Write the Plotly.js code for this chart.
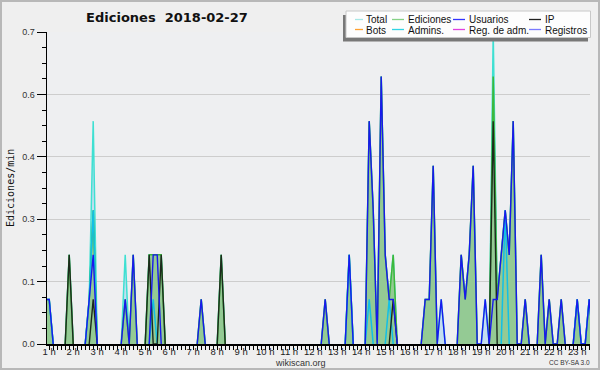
<!DOCTYPE html>
<html><head><meta charset="utf-8">
<script src="https://cdn.plot.ly/plotly-3.0.1.min.js"></script>
<style>
html,body{margin:0;padding:0;background:#efefef}
#chart{width:600px;height:370px;position:relative}
#chart:after{content:'';position:absolute;left:0;top:0;right:0;bottom:0;border:2px solid #b8b8b8;pointer-events:none;box-sizing:border-box}
</style>
</head><body><div id="chart"></div><script>
// 10-minute bins, 00:00 .. 23:50 (12 bins = 2 hours per row)
const total = [
 0,0,0,0,0,.1,.1,0,0,0,0,.2,
 0,0,0,0,.1,.5,0,0,0,0,0,0,
 0,.2,0,.2,0,0,0,.2,.2,.2,.2,0,
 0,0,0,0,0,0,0,0,.1,0,0,0,
 0,.2,0,0,0,0,0,0,0,0,0,0,
 0,0,0,0,0,0,0,0,0,0,0,0,
 0,0,0,.1,0,0,0,0,0,.2,0,0,
 0,0,.5,.3,0,.6,.2,.1,.2,0,0,0,
 0,0,0,0,.1,.1,.4,0,.1,0,0,0,
 0,.2,.1,.2,.4,0,0,.1,0,.7,.1,.2,
 .3,.2,.5,0,0,.1,0,0,0,.2,0,.1,
 0,0,.1,0,0,0,.1,0,0,.1,0,0];
const ediciones = [
 0,0,0,0,0,.1,.1,0,0,0,0,.2,
 0,0,0,0,.1,.3,0,0,0,0,0,0,
 0,.1,0,.2,0,0,0,.2,.2,.2,.2,0,
 0,0,0,0,0,0,0,0,.1,0,0,0,
 0,.2,0,0,0,0,0,0,0,0,0,0,
 0,0,0,0,0,0,0,0,0,0,0,0,
 0,0,0,.1,0,0,0,0,0,.2,0,0,
 0,0,.5,.3,0,.6,.2,.1,.2,0,0,0,
 0,0,0,0,.1,.1,.4,0,0,0,0,0,
 0,.2,.1,.2,.4,0,0,0,0,.6,.1,.2,
 .3,.2,.5,0,0,.1,0,0,0,.2,0,.1,
 0,0,.1,0,0,0,.1,0,0,.1,0,0];
const usuarios = [
 0,0,0,0,0,.1,.1,0,0,0,0,0,
 0,0,0,0,.1,.2,0,0,0,0,0,0,
 0,.1,0,.2,0,0,0,0,.2,.2,0,0,
 0,0,0,0,0,0,0,0,.1,0,0,0,
 0,0,0,0,0,0,0,0,0,0,0,0,
 0,0,0,0,0,0,0,0,0,0,0,0,
 0,0,0,.1,0,0,0,0,0,.2,0,0,
 0,0,.5,.3,0,.6,.2,.1,.1,0,0,0,
 0,0,0,0,.1,.1,.4,0,.1,0,0,0,
 0,.2,.1,.2,.4,0,0,.1,0,.1,.1,.2,
 .3,.2,.5,0,0,.1,0,0,0,.2,0,.1,
 0,0,.1,0,0,0,.1,0,0,.1,0,0];
const ip = [
 0,0,0,0,0,0,0,0,0,0,0,.2,
 0,0,0,0,0,.1,0,0,0,0,0,0,
 0,0,0,0,0,0,0,.2,0,0,.2,0,
 0,0,0,0,0,0,0,0,0,0,0,0,
 0,.2,0,0,0,0,0,0,0,0,0,0,
 0,0,0,0,0,0,0,0,0,0,0,0,
 0,0,0,0,0,0,0,0,0,0,0,0,
 0,0,0,0,0,0,0,0,.1,0,0,0,
 0,0,0,0,0,0,0,0,0,0,0,0,
 0,0,0,0,0,0,0,0,0,.5,0,0,
 0,0,0,0,0,0,0,0,0,0,0,0,
 0,0,0,0,0,0,0,0,0,0,0,0];
const admins = [
 0,0,0,0,0,.1,.1,0,0,0,0,0,
 0,0,0,0,.1,.3,0,0,0,0,0,0,
 0,0,0,0,0,0,0,0,.1,0,0,0,
 0,0,0,0,0,0,0,0,0,0,0,0,
 0,0,0,0,0,0,0,0,0,0,0,0,
 0,0,0,0,0,0,0,0,0,0,0,0,
 0,0,0,0,0,0,0,0,0,.2,0,0,
 0,0,.1,0,0,0,0,.1,0,0,0,0,
 0,0,0,0,0,0,0,0,0,0,0,0,
 0,0,0,0,0,0,0,0,0,0,0,0,
 .3,0,0,0,0,0,0,0,0,0,0,0,
 0,0,0,0,0,0,.1,0,0,.1,0,0];
const bots = new Array(144).fill(0);
const regAdm = new Array(144).fill(0);
const registros = new Array(144).fill(0);

const hourTicks = [1,2,3,4,5,6,7,8,9,10,11,12,13,14,15,16,17,18,19,20,21,22,23];
const hourLabels = hourTicks.map(h => h + ' h');
const yTickVals = [0, 0.14, 0.28, 0.42, 0.56, 0.7];
const yTickText = ['0.0','0.1','0.3','0.4','0.6','0.7'];

const legendNames = ['Total','Ediciones','Usuarios','IP','Bots','Admins.','Reg. de adm.','Registros'];
const legendColors = ['#a6e8e6','#86d286','#3434ff','#222222','#ffa030','#30d4e4','#e040e0','#7a7aff'];

const hours = total.map((_, k) => k / 6);
function trim(a){ return a.map((v,i)=> (v===0 && (a[i-1]||0)===0 && (a[i+1]||0)===0) ? null : v); }

function line(name, arr, color, width, extra){
  return Object.assign({type:'scatter', mode:'lines', name, x:hours, y:trim(arr),
    line:{color, width}, hoverinfo:'skip', showlegend:false}, extra||{});
}
const traces = [
  line('Total', total, '#3ee0d2', 1.5, {fill:'tozeroy', fillcolor:'rgb(196,222,240)'}),
  line('Ediciones', ediciones, '#3cb83c', 1.5, {fill:'tozeroy', fillcolor:'rgb(148,202,148)'}),
  line('Bots', bots, '#ffa030', 1.4),
  line('Admins.', admins, '#12bfe6', 1.5),
  line('IP', ip, '#1c2a1c', 1.4),
  line('Usuarios', usuarios, '#1818ee', 1.4),
  line('Reg. de adm.', regAdm, '#e040e0', 1.4),
  line('Registros', registros, '#7a7aff', 1.4)
];

const L=47, R=590, T=32, B=344;
const px = x => (x-L)/(R-L), py = y => (B-y)/(B-T);

const shapes = [
  {type:'rect', xref:'paper', yref:'paper', x0:px(343), x1:px(588), y0:py(15), y1:py(41.5), fillcolor:'#787878', line:{width:0}, layer:'above'},
  {type:'rect', xref:'paper', yref:'paper', x0:px(346), x1:px(590.5), y0:py(11), y1:py(37.5), fillcolor:'#fdfdfd', line:{color:'#c8c8c8', width:1}, layer:'above'}
];
const annotations = [];
const colDash = [[355,363],[392,404],[453,465],[529,541]];
const colText = [365,407,468,544];
const rowY = [19.5, 29.5];
legendNames.forEach((n,i)=>{
  const c = i%4, r = Math.floor(i/4);
  shapes.push({type:'line', xref:'paper', yref:'paper', x0:px(colDash[c][0]), x1:px(colDash[c][1]), y0:py(rowY[r]), y1:py(rowY[r]), line:{color:legendColors[i], width:1.3}, layer:'above'});
  annotations.push({xref:'paper', yref:'paper', x:px(colText[c]), y:py(rowY[r]+0.5), xanchor:'left', yanchor:'middle', text:n, showarrow:false, borderpad:0, font:{family:'Liberation Sans, Arial, sans-serif', size:10, color:'#111'}});
});
annotations.push({xref:'paper', yref:'paper', x:px(10), y:py(188), text:'Ediciones/min', textangle:-90, showarrow:false, xanchor:'center', yanchor:'middle', font:{family:'DejaVu Sans Mono, monospace', size:10, color:'#111'}});
annotations.push({xref:'paper', yref:'paper', x:px(300), y:py(362.5), text:'wikiscan.org', showarrow:false, xanchor:'center', yanchor:'middle', borderpad:0, font:{family:'Liberation Sans, Arial, sans-serif', size:9, color:'#333'}});
annotations.push({xref:'paper', yref:'paper', x:px(569), y:py(362.5), text:'CC BY-SA 3.0', showarrow:false, xanchor:'center', yanchor:'middle', borderpad:0, font:{family:'Liberation Sans, Arial, sans-serif', size:6.5, color:'#333'}});

const layout = {
  width:600, height:370,
  margin:{l:L, r:600-R, t:T, b:370-B},
  paper_bgcolor:'#efefef', plot_bgcolor:'#eeeff1',
  title:{text:'Ediciones\u00a0\u00a02018-02-27', x:167/600, xanchor:'center', y:1-17/370, yanchor:'middle',
    font:{family:'DejaVu Sans, sans-serif', size:13, color:'#111', weight:'bold'}},
  xaxis:{range:[0.908, 23.533], tickmode:'array', tickvals:hourTicks, ticktext:hourLabels,
    ticks:'outside', ticklen:4, tickcolor:'#000', tickwidth:1, showgrid:false, zeroline:false,
    showline:true, linecolor:'#000', linewidth:1.5, ticklabelstandoff:-6,
    tickfont:{family:'Liberation Sans, Arial, sans-serif', size:9.5, color:'#222'},
    minor:{tickmode:'linear', tick0:0, dtick:1/6, ticks:'outside', ticklen:4, tickcolor:'#000', tickwidth:1, showgrid:false}},
  yaxis:{range:[0, 0.7], tickmode:'array', tickvals:yTickVals, ticktext:yTickText,
    ticks:'outside', ticklen:9, tickcolor:'#000', tickwidth:1, showgrid:true, gridcolor:'#cdcdcd', gridwidth:1,
    zeroline:false, showline:true, linecolor:'#000', linewidth:1.5,
    tickfont:{family:'Liberation Sans, Arial, sans-serif', size:9, color:'#333'},
    minor:{tickmode:'linear', tick0:0, dtick:0.035, ticks:'outside', ticklen:4, tickcolor:'#000', tickwidth:1, showgrid:false}},
  shapes, annotations, showlegend:false
};
Plotly.newPlot('chart', traces, layout, {displayModeBar:false, staticPlot:true});
</script></body></html>
